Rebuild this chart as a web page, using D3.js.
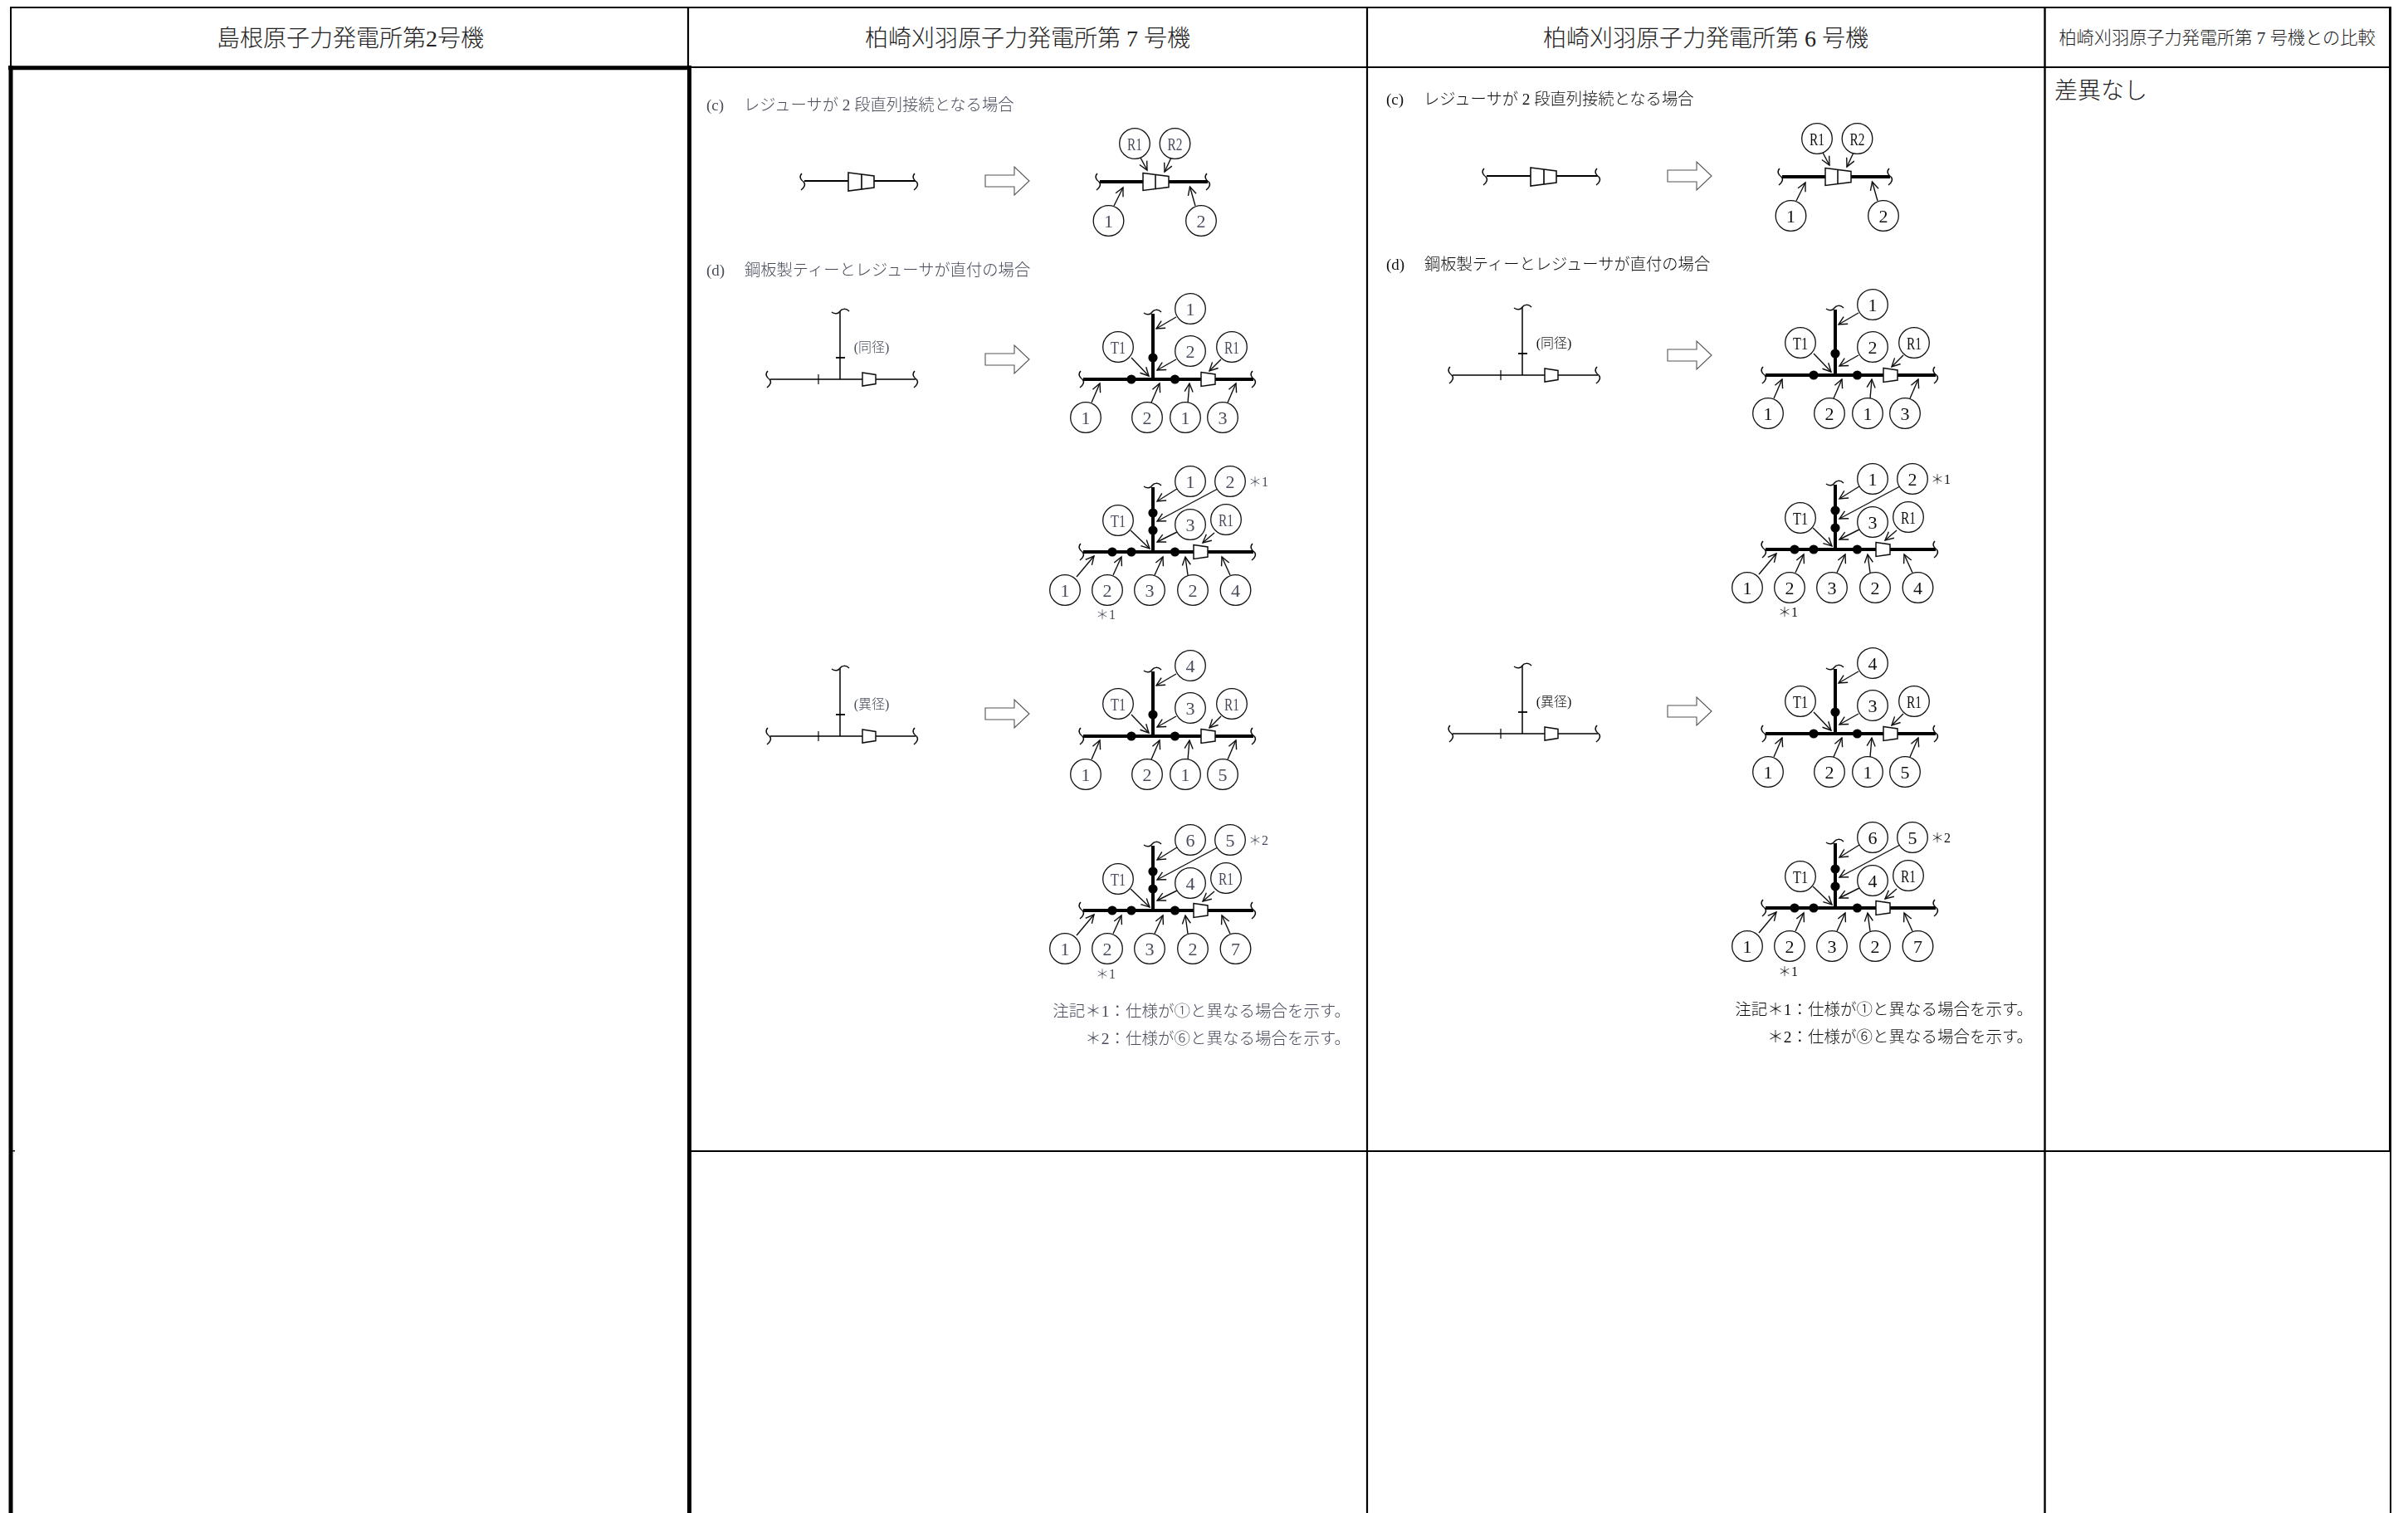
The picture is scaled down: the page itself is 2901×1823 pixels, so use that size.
<!DOCTYPE html>
<html>
<head>
<meta charset="utf-8">
<script src="https://d3js.org/d3.v7.min.js"></script>
<style>
  body { margin: 0; background: #fff; }
  text { font-family: "Liberation Serif", "Noto Sans CJK JP", serif; font-weight: 300; }
</style>
</head>
<body>
<div id="my_dataviz"></div>
<script>
const W = 2901, H = 1823;

// table rules: x1, y1, x2, y2, stroke width
const tableRules = [
  [12, 9, 2881, 9, 2],
  [13, 9, 13, 80, 2],
  [829, 9, 829, 80, 2.2],
  [1647, 9, 1647, 1823, 2.2],
  [2463.5, 9, 2463.5, 1823, 2.4],
  [2879.5, 9, 2879.5, 1387, 3],
  [2880, 1387, 2880, 1823, 2],
  [10, 81.8, 833, 81.8, 5],
  [833, 81, 2881, 81, 2],
  [13, 79, 13, 1823, 5],
  [830.5, 79, 830.5, 1823, 5],
  [833, 1387, 2881, 1387, 2],
  [15, 1386.7, 18, 1386.7, 1.5]
];

// header cells
const headerLabels = ["島根原子力発電所第2号機", "柏崎刈羽原子力発電所第 7 号機", "柏崎刈羽原子力発電所第 6 号機", "柏崎刈羽原子力発電所第 7 号機との比較"];
const headerCenters = [422, 1238, 2055, 2671];
const headerSizes = [28, 28, 28, 21.2];
const compareNote = "差異なし";

// section headings
const headingTags = ["(c)", "(d)"];
const headingTexts = ["レジューサが 2 段直列接続となる場合", "鋼板製ティーとレジューサが直付の場合"];
const noteLines = ["注記＊1：仕様が①と異なる場合を示す。", "＊2：仕様が⑥と異なる場合を示す。"];

// the two plant columns
const columnNames = ["unit7", "unit6"];
const columnShift = [0, 822];
const columnInk = ["#474c5c", "#111111"];
const pipeLevels = [[219, 457, 665, 887, 1097], [213, 452, 662, 884, 1094]];
const headingLevels = [[126, 325], [119.5, 318.5]];
const noteLevels = [[1218, 1251], [1216, 1249]];

// numbered balloons, one label list per drawing
const serialLabels = ["R1", "R2", "1", "2"];
const teeSameOne = ["1", "T1", "2", "R1", "1", "2", "1", "3"];
const teeSameTwo = ["1", "2", "T1", "3", "R1", "1", "2", "3", "2", "4"];
const teeDiffOne = ["4", "T1", "3", "R1", "1", "2", "1", "5"];
const teeDiffTwo = ["6", "5", "T1", "4", "R1", "1", "2", "3", "2", "7"];

// balloon centres and leader ends, relative to the tee (0,0 = branch on the run pipe)
const serialBalloons = [[-22, -46], [26.5, -46], [-53.5, 47], [58, 47]];
const serialLeaders = [[-15, -29, -7, -14], [22, -29, 14, -12], [-47, 29, -36, 7], [51, 29, 44.5, 6]];
const oneWeldBalloons = [[45, -85], [-42, -39], [45, -34], [95, -39], [-81, 46], [-7, 46], [39, 46], [84, 46]];
const oneWeldLeaders = [[28, -75, 4, -61], [-26, -26, -5, -4], [28, -24, 5, -11], [82, -24, 68, -10],
  [-74, 28, -64, 5], [-2, 28, 8, 5], [42, 28, 44, 5], [90, 28, 100, 5]];
const twoWeldBalloons = [[45, -85], [93, -85], [-42, -38], [45, -33], [88, -39],
  [-106, 46], [-55, 46], [-4, 46], [48, 46], [99.5, 46]];
const twoWeldLeaders = [[29, -76, 5, -61], [78, -76, 5, -37], [-27, -26, -4, -4], [29, -24, 5, -12], [74, -23, 60, -11],
  [-92, 30, -71, 5], [-48, 28, -38, 6], [2, 28, 12, 6], [42, 28, 39, 6], [93, 28, 83, 6]];

// welds on the fitted drawings
const oneWeldDots = [[0, -26], [-26, 0], [26.5, 0]];
const twoWeldDots = [[0, -47], [0, -26], [-49, 0], [-26, 0], [26.5, 0]];

const svg = d3.select("#my_dataviz")
  .append("svg")
    .attr("width", W)
    .attr("height", H)
    .style("display", "block");

const defs = svg.append("defs");
defs.append("marker")
    .attr("id", "open-head")
    .attr("markerUnits", "userSpaceOnUse")
    .attr("markerWidth", 16)
    .attr("markerHeight", 16)
    .attr("refX", 11)
    .attr("refY", 8)
    .attr("orient", "auto")
  .append("path")
    .attr("d", "M1,3 L11,8 L1,13")
    .attr("fill", "none")
    .attr("stroke", "#111")
    .attr("stroke-width", 1.4);
defs.append("filter")
    .attr("id", "scan")
  .append("feGaussianBlur")
    .attr("stdDeviation", 0.4);

// Tabella
svg.append("g").selectAll("line")
  .data(tableRules)
  .join("line")
    .attr("x1", d => d[0])
    .attr("y1", d => d[1])
    .attr("x2", d => d[2])
    .attr("y2", d => d[3])
    .attr("stroke", "#000")
    .attr("stroke-width", d => d[4]);

// Intestazioni
svg.append("g").selectAll("text")
  .data(headerLabels)
  .join("text")
    .attr("x", (d, i) => headerCenters[i])
    .attr("y", 46)
    .attr("text-anchor", "middle")
    .attr("dominant-baseline", "central")
    .attr("font-size", (d, i) => headerSizes[i])
    .attr("fill", "#222")
    .text(d => d);

svg.append("text")
    .attr("x", 2475)
    .attr("y", 109)
    .attr("dominant-baseline", "central")
    .attr("font-size", 28)
    .attr("fill", "#222")
    .text(compareNote);

// one panel: scales carry the local drawing units onto the page
function panel(g, x0, y0, ink, draw) {
  const x = d3.scaleLinear().domain([-600, 300]).range([x0 - 600, x0 + 300]);
  const y = d3.scaleLinear().domain([-100, 100]).range([y0 - 100, y0 + 100]);
  draw(g.append("g"), x, y, ink);
}

function pipe(g, x, y, x1, y1, x2, y2, w) {
  g.append("line")
    .attr("x1", x(x1)).attr("y1", y(y1))
    .attr("x2", x(x2)).attr("y2", y(y2))
    .attr("stroke", "#000")
    .attr("stroke-width", w);
}

function reducer(g, x, y, xs, hl, hr, w) {
  const a = xs[0], b = xs[xs.length - 1];
  const pts = [[a, -hl], [b, -hr], [b, hr], [a, hl]];
  g.append("path")
    .attr("d", d3.line().x(d => x(d[0])).y(d => y(d[1])).curve(d3.curveLinearClosed)(pts))
    .attr("fill", "#fff")
    .attr("stroke", "#111")
    .attr("stroke-width", w);
  if (xs.length === 3) {
    const m = xs[1], hm = hl + (hr - hl) * (m - a) / (b - a);
    pipe(g, x, y, m, -hm, m, hm, w);
  }
}

// break marks
function breakV(g, x, y, bx) {
  g.append("path")
    .attr("d", `M${x(bx - 2)},${y(-10)} C${x(bx - 6)},${y(-6)} ${x(bx - 3)},${y(-2)} ${x(bx)},${y(0)} C${x(bx + 3)},${y(3)} ${x(bx + 1)},${y(7)} ${x(bx - 3)},${y(10)}`)
    .attr("fill", "none")
    .attr("stroke", "#111")
    .attr("stroke-width", 1.5);
}

function breakH(g, x, y, bx, by) {
  g.append("path")
    .attr("d", `M${x(bx - 10)},${y(by + 1)} C${x(bx - 6)},${y(by + 4)} ${x(bx - 2)},${y(by + 3)} ${x(bx)},${y(by)} C${x(bx + 2)},${y(by - 3)} ${x(bx + 7)},${y(by - 4)} ${x(bx + 11)},${y(by)}`)
    .attr("fill", "none")
    .attr("stroke", "#111")
    .attr("stroke-width", 1.5);
}

// hollow arrow between sketch and fitted drawing
function bigArrow(g, x, y, cy) {
  const pts = [[-202, cy - 7], [-167, cy - 7], [-167, cy - 17], [-149, cy], [-167, cy + 17], [-167, cy + 7], [-202, cy + 7]];
  g.append("path")
    .attr("d", d3.line().x(d => x(d[0])).y(d => y(d[1])).curve(d3.curveLinearClosed)(pts))
    .attr("fill", "#fff")
    .attr("stroke", "#555")
    .attr("stroke-width", 1.1);
}

function leaders(g, x, y, rows) {
  g.append("g").selectAll("line")
    .data(rows)
    .join("line")
      .attr("x1", d => x(d[0]))
      .attr("y1", d => y(d[1]))
      .attr("x2", d => x(d[2]))
      .attr("y2", d => y(d[3]))
      .attr("stroke", "#111")
      .attr("stroke-width", 1.4)
      .attr("marker-end", "url(#open-head)");
}

function balloons(g, x, y, centres, labels, ink) {
  const b = g.append("g").selectAll("g")
    .data(centres)
    .join("g")
      .attr("transform", d => `translate(${x(d[0])},${y(d[1])})`);
  b.append("circle")
    .attr("r", 18.3)
    .attr("fill", "#fff")
    .attr("stroke", "#111")
    .attr("stroke-width", 1.3);
  b.append("text")
    .attr("text-anchor", "middle")
    .attr("dominant-baseline", "central")
    .attr("font-size", 22)
    .attr("fill", ink)
    .each(function(d, i) {
      if (labels[i].length > 1) d3.select(this).attr("textLength", 18).attr("lengthAdjust", "spacingAndGlyphs");
    })
    .text((d, i) => labels[i]);
}

function dots(g, x, y, rows) {
  g.append("g").selectAll("circle")
    .data(rows)
    .join("circle")
      .attr("cx", d => x(d[0]))
      .attr("cy", d => y(d[1]))
      .attr("r", 5.6)
      .attr("fill", "#000");
}

function asterisk(g, x, y, px, py, s, ink) {
  g.append("text")
    .attr("x", x(px))
    .attr("y", y(py))
    .attr("text-anchor", "middle")
    .attr("dominant-baseline", "central")
    .attr("font-size", 16)
    .attr("fill", ink)
    .text(s);
}

// Schizzo (c)
function serialSketch(g, x, y) {
  pipe(g, x, y, -420, -1, -286, -1, 2);
  breakV(g, x, y, -421);
  breakV(g, x, y, -285);
  reducer(g, x, y, [-367, -351, -336], 11, 7, 1.6);
  bigArrow(g, x, y, -1);
}

function serialFitted(g, x, y, ink) {
  pipe(g, x, y, -64, 0, 66, 0, 4);
  breakV(g, x, y, -65);
  breakV(g, x, y, 67);
  reducer(g, x, y, [-12, 3, 19], 10.5, 6.5, 1.5);
  leaders(g, x, y, serialLeaders);
  balloons(g, x, y, serialBalloons, serialLabels, ink);
}

// Schizzo a T
function teeSketch(g, x, y, ink, caption, arrowAt, tickAt, topAt) {
  pipe(g, x, y, -461, 0, -286, 0, 1.5);
  pipe(g, x, y, -377, topAt, -377, 0, 1.5);
  pipe(g, x, y, -382, tickAt, -371, tickAt, 1.8);
  pipe(g, x, y, -403, -6, -403, 6, 1.2);
  breakV(g, x, y, -462);
  breakV(g, x, y, -285);
  breakH(g, x, y, -377, topAt);
  reducer(g, x, y, [-350, -334], 8, 5.5, 1.5);
  bigArrow(g, x, y, arrowAt);
  g.append("text")
    .attr("x", x(-339))
    .attr("y", y(-39))
    .attr("text-anchor", "middle")
    .attr("dominant-baseline", "central")
    .attr("font-size", 16)
    .attr("fill", ink)
    .text(caption);
}

function teeFitted(g, x, y, ink, labels, centres, rows, welds, redFrom, topAt) {
  pipe(g, x, y, -84, 0, 121, 0, 4);
  pipe(g, x, y, 0, topAt, 0, 0, 4);
  breakV(g, x, y, -85);
  breakV(g, x, y, 122);
  breakH(g, x, y, -1, topAt - 2);
  reducer(g, x, y, [redFrom, redFrom + 17], 8.5, 6, 1.5);
  dots(g, x, y, welds);
  leaders(g, x, y, rows);
  balloons(g, x, y, centres, labels, ink);
}

columnNames.forEach((name, c) => {
  const x0 = 1389 + columnShift[c];
  const ink = columnInk[c];
  const lv = pipeLevels[c];
  const g = svg.append("g").attr("class", name).attr("filter", "url(#scan)");

  // Titoli sezione
  headingTags.forEach((t, i) => {
    const ty = headingLevels[c][i];
    const hx = x0 - c * 3;
    g.append("text").attr("x", hx - 538).attr("y", ty)
      .attr("dominant-baseline", "central").attr("font-size", 19).attr("fill", ink).text(t);
    g.append("text").attr("x", hx - (i === 0 ? 493 : 492)).attr("y", ty)
      .attr("dominant-baseline", "central").attr("font-size", 19.3).attr("fill", ink).text(headingTexts[i]);
  });

  panel(g, x0, lv[0], ink, (p, x, y, k) => {
    serialSketch(p, x, y);
    serialFitted(p, x, y, k);
  });
  panel(g, x0, lv[1], ink, (p, x, y, k) => {
    teeSketch(p, x, y, k, "(同径)", -24, -26, -82);
    teeFitted(p, x, y, k, teeSameOne, oneWeldBalloons, oneWeldLeaders, oneWeldDots, 58, -79);
  });
  panel(g, x0, lv[2], ink, (p, x, y, k) => {
    teeFitted(p, x, y, k, teeSameTwo, twoWeldBalloons, twoWeldLeaders, twoWeldDots, 49, -78);
    asterisk(p, x, y, 127, -85, "＊1", k);
    asterisk(p, x, y, -57, 75, "＊1", k);
  });
  panel(g, x0, lv[3], ink, (p, x, y, k) => {
    teeSketch(p, x, y, k, "(異径)", -27, -26, -82);
    teeFitted(p, x, y, k, teeDiffOne, oneWeldBalloons, oneWeldLeaders, oneWeldDots, 58, -78);
  });
  panel(g, x0, lv[4], ink, (p, x, y, k) => {
    teeFitted(p, x, y, k, teeDiffTwo, twoWeldBalloons, twoWeldLeaders, twoWeldDots, 49, -78);
    asterisk(p, x, y, 127, -85, "＊2", k);
    asterisk(p, x, y, -57, 76, "＊1", k);
  });

  // Note
  noteLines.forEach((t, i) => {
    g.append("text").attr("x", x0 + 238).attr("y", noteLevels[c][i])
      .attr("text-anchor", "end").attr("dominant-baseline", "central")
      .attr("font-size", 19.5).attr("fill", ink).text(t);
  });
});
</script>
</body>
</html>
